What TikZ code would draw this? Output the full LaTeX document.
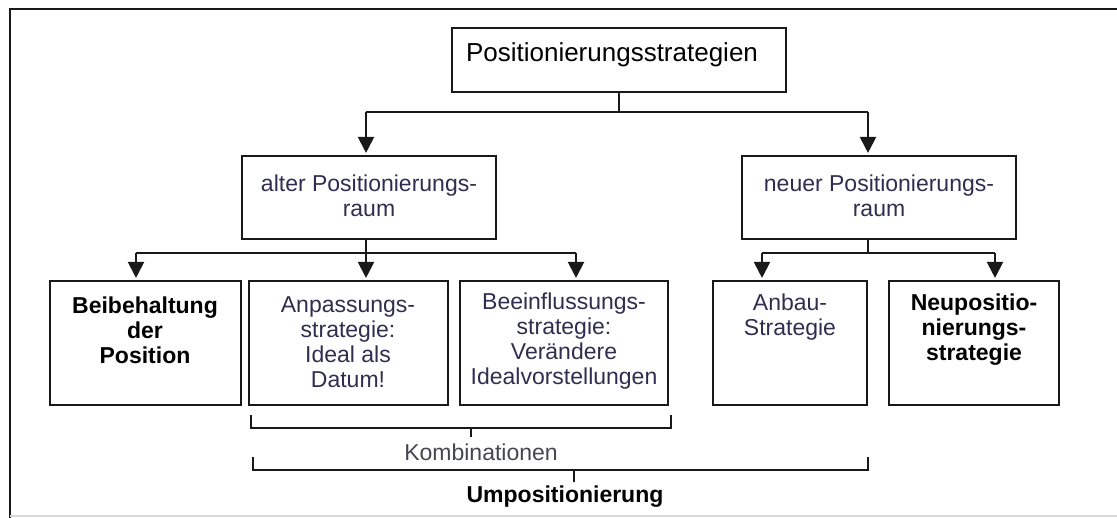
\documentclass[tikz,border=0pt]{standalone}
\usepackage{fontspec}
\setmainfont{Liberation Sans}
\usetikzlibrary{arrows.meta}
\definecolor{ink}{RGB}{25,25,25}
\definecolor{navy}{RGB}{48,46,80}
\definecolor{greytext}{RGB}{70,70,82}
\begin{document}
\begin{tikzpicture}[x=1pt,y=-1pt,
  box/.style={draw=ink,line width=2.1pt,rectangle,inner sep=0pt},
  txt/.style={align=center,font=\fontsize{23}{25}\selectfont,text=navy,inner sep=0pt},
  btxt/.style={align=center,font=\fontsize{23}{25}\selectfont\bfseries,text=black,inner sep=0pt},
  conn/.style={draw=ink,line width=2.1pt},
  arr/.style={conn,shorten >=2pt,-{Triangle[width=16pt,length=16pt]}},
]
\useasboundingbox (0,0) rectangle (1117,518);
% outer frame
\draw[conn] (1117,9) -- (10,9) -- (10,518);
\draw[draw=black!15,line width=1.5pt] (10,516) -- (1117,516);

% boxes
\node[box,minimum width=334pt,minimum height=64pt] (top) at (619,60) {};
\node[box,minimum width=254pt,minimum height=83pt] (alt) at (369,197.5) {};
\node[box,minimum width=274pt,minimum height=83pt] (neu) at (879,197.5) {};
\node[box,minimum width=191pt,minimum height=124pt] (b1) at (145.5,343) {};
\node[box,minimum width=199pt,minimum height=124pt] (b2) at (348.5,343) {};
\node[box,minimum width=208pt,minimum height=124pt] (b3) at (564,343) {};
\node[box,minimum width=154pt,minimum height=124pt] (b4) at (790,343) {};
\node[box,minimum width=170pt,minimum height=124pt] (b5) at (974,343) {};

% texts
\node[txt,text=black,font=\fontsize{26}{28}\selectfont] (toptxt) at (612,55) {Positionierungsstrategien};
\node[txt] (alttxt) at (369,196) {alter Positionierungs-\\raum};
\node[txt] (neutxt) at (879,196) {neuer Positionierungs-\\raum};
\node[btxt] (t1) at (145,330) {Beibehaltung\\der\\Position};
\node[txt] (t2) at (348,342.5) {Anpassungs-\\strategie:\\Ideal als\\Datum!};
\node[txt] (t3) at (564,341) {Beeinflussungs-\\strategie:\\Verändere\\Idealvorstellungen};
\node[txt] (t4) at (790,317.5) {Anbau-\\Strategie};
\node[btxt] (t5) at (974,330) {Neupositio-\\nierungs-\\strategie};

% top level connectors
\coordinate (j0) at (619,112);
\coordinate (jl) at (366,112);
\coordinate (jr) at (868,112);
\draw[conn] (top.south) -- (j0);
\draw[conn] (jl) -- (jr);
\draw[arr] (jl) -- (jl |- alt.north);
\draw[arr] (jr) -- (jr |- neu.north);

% alter subtree
\coordinate (k0) at (366,253);
\coordinate (k1) at (136,253);
\coordinate (k3) at (576,253);
\draw[conn] (alt.south -| k0) -- (k0);
\draw[conn] (k1) -- (k3);
\draw[arr] (k1) -- (k1 |- b1.north);
\draw[arr] (k0) -- (k0 |- b2.north);
\draw[arr] (k3) -- (k3 |- b3.north);

% neuer subtree
\coordinate (m0) at (868,253);
\coordinate (m1) at (762,253);
\coordinate (m2) at (995,253);
\draw[conn] (neu.south -| m0) -- (m0);
\draw[conn] (m1) -- (m2);
\draw[arr] (m1) -- (m1 |- b4.north);
\draw[arr] (m2) -- (m2 |- b5.north);

% brackets
\coordinate (ka) at (251,415);
\coordinate (kb) at (671,415);
\coordinate (kt) at (471,428);
\draw[conn] (ka) -- (251,428) -- (671,428) -- (kb);
\draw[conn] (kt) -- (471,437);
\node[txt,text=greytext] (komb) at (481,452) {Kombinationen};

\coordinate (ua) at (253,457);
\coordinate (ub) at (868,457);
\coordinate (ut) at (574,470);
\draw[conn] (ua) -- (253,470) -- (868,470) -- (ub);
\draw[conn] (ut) -- (574,482);
\node[btxt] (umpos) at (565,497) {Umpositionierung};
\end{tikzpicture}
\end{document}
